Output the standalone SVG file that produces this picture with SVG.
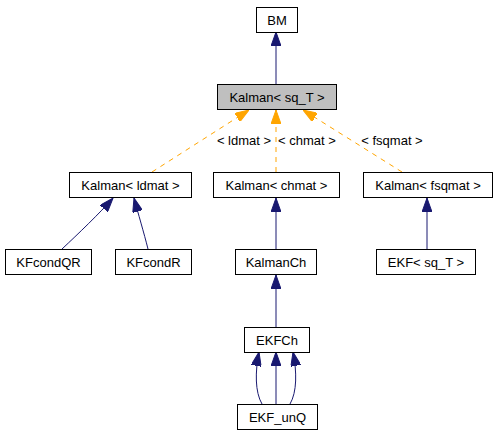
<svg xmlns="http://www.w3.org/2000/svg" width="496" height="435" viewBox="0 0 496 435">
<style>
.n rect{fill:#fff;stroke:#000;stroke-width:1}
.n.hl rect{fill:#bfbfbf}
text{font-family:"Liberation Sans",Arial,sans-serif;font-size:13px;fill:#000;text-anchor:middle}
.e{fill:none;stroke:#191970;stroke-width:1}
.t{fill:none;stroke:#ffa500;stroke-width:1;stroke-dasharray:5,5}
</style>
<defs>
<marker id="ab" markerUnits="userSpaceOnUse" viewBox="0 0 14 10" refX="14" refY="5" markerWidth="14" markerHeight="10" orient="auto"><path d="M0,0L14,5L0,10z" fill="#191970" stroke="#191970"/></marker>
<marker id="ao" markerUnits="userSpaceOnUse" viewBox="0 0 14 10" refX="14" refY="5" markerWidth="14" markerHeight="10" orient="auto"><path d="M0,0L14,5L0,10z" fill="#ffa500" stroke="#ffa500"/></marker>
</defs>
<rect width="496" height="435" fill="#fff"/>
<g id="edges">
<path class="e" d="M276,84L276,32" marker-end="url(#ab)"/>
<path class="t" d="M152,172L249,110" marker-end="url(#ao)"/>
<path class="t" d="M276,172L276,110" marker-end="url(#ao)"/>
<path class="t" d="M402,172L303,110" marker-end="url(#ao)"/>
<path class="e" d="M62,249C78,234 100,213 113,198" marker-end="url(#ab)"/>
<path class="e" d="M148,249C144,233 138,213 134,198" marker-end="url(#ab)"/>
<path class="e" d="M276,249L276,198" marker-end="url(#ab)"/>
<path class="e" d="M427,249L427,198" marker-end="url(#ab)"/>
<path class="e" d="M276,327L276,275" marker-end="url(#ab)"/>
<path class="e" d="M276,404L276,352" marker-end="url(#ab)"/>
<path class="e" d="M262,404C255,392 255,372 259,352" marker-end="url(#ab)"/>
<path class="e" d="M290,404C297,392 297,372 293,352" marker-end="url(#ab)"/>
<text x="244" y="145">&lt; ldmat &gt;</text>
<text x="307" y="145">&lt; chmat &gt;</text>
<text x="392" y="145">&lt; fsqmat &gt;</text>
</g>
<g id="BM" class="n"><rect x="256.5" y="7.5" width="41" height="25"/><text x="277" y="24.5">BM</text></g>
<g id="Kalman_sqT" class="n hl"><rect x="217.5" y="84.5" width="119" height="25"/><text x="277" y="101.5">Kalman&lt; sq_T &gt;</text></g>
<g id="Kalman_ldmat" class="n"><rect x="69.5" y="172.5" width="122" height="25"/><text x="130.5" y="189.5">Kalman&lt; ldmat &gt;</text></g>
<g id="Kalman_chmat" class="n"><rect x="213.5" y="172.5" width="126" height="25"/><text x="276.5" y="189.5">Kalman&lt; chmat &gt;</text></g>
<g id="Kalman_fsqmat" class="n"><rect x="363.5" y="172.5" width="129" height="25"/><text x="428" y="189.5">Kalman&lt; fsqmat &gt;</text></g>
<g id="KFcondQR" class="n"><rect x="5.5" y="249.5" width="86" height="25"/><text x="48.5" y="266.5">KFcondQR</text></g>
<g id="KFcondR" class="n"><rect x="115.5" y="249.5" width="76" height="25"/><text x="153.5" y="266.5">KFcondR</text></g>
<g id="KalmanCh" class="n"><rect x="235.5" y="249.5" width="81" height="25"/><text x="276" y="266.5">KalmanCh</text></g>
<g id="EKF_sqT" class="n"><rect x="376.5" y="249.5" width="99" height="25"/><text x="426" y="266.5">EKF&lt; sq_T &gt;</text></g>
<g id="EKFCh" class="n"><rect x="244.5" y="327.5" width="65" height="25"/><text x="277" y="344.5">EKFCh</text></g>
<g id="EKF_unQ" class="n"><rect x="237.5" y="404.5" width="80" height="25"/><text x="277.5" y="421.5">EKF_unQ</text></g>
</svg>
